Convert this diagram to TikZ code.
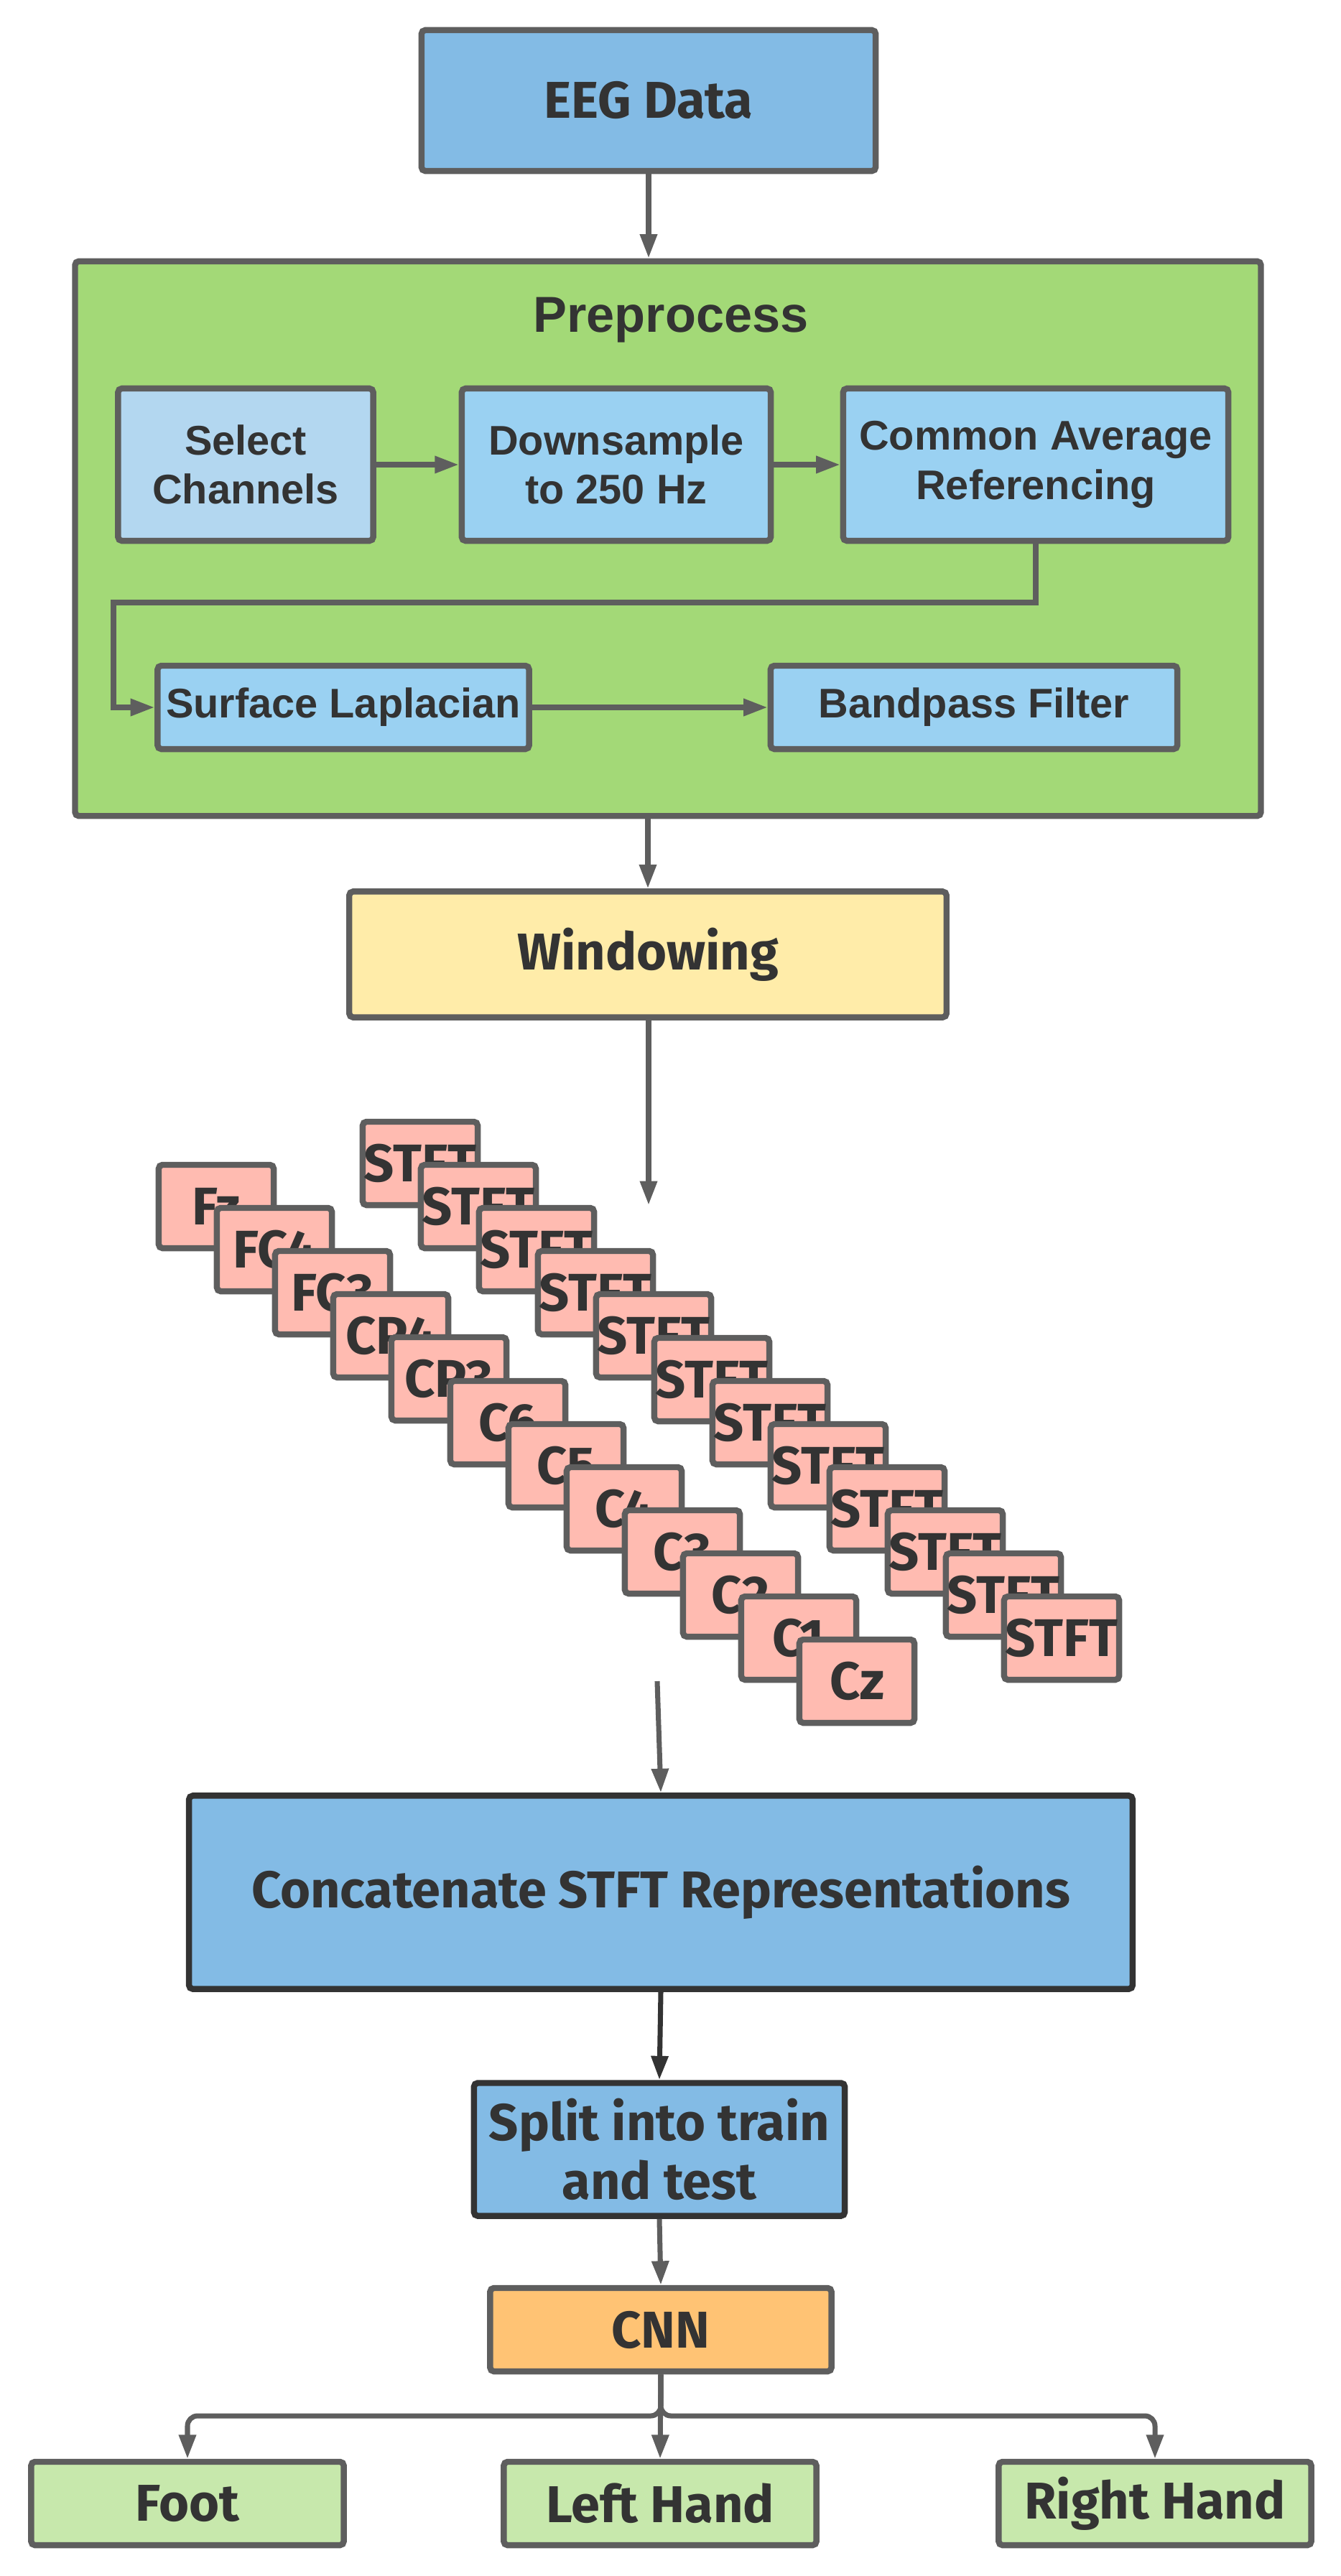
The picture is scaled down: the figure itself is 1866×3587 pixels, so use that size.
\documentclass[tikz,border=0pt]{standalone}
\usepackage{fontspec}
\usepackage{tikz}
\usetikzlibrary{arrows.meta,positioning}
\newfontfamily\topfont{Liberation Sans}
\newfontfamily\botfont{Fira Sans}
\definecolor{eegblue}{HTML}{83BBE5}
\definecolor{prepgreen}{HTML}{A3D977}
\definecolor{selblue}{HTML}{B3D7F0}
\definecolor{stepblue}{HTML}{9AD1F2}
\definecolor{winyellow}{HTML}{FFECA9}
\definecolor{chanpink}{HTML}{FFBBB1}
\definecolor{cnnorange}{HTML}{FFC374}
\definecolor{outgreen}{HTML}{C7E8AC}
\definecolor{linegray}{HTML}{5E5E5E}
\definecolor{txtdark}{HTML}{333333}

\begin{document}
\begin{tikzpicture}[
  x=0.01cm, y=-0.01cm,
  box/.style={draw=linegray, line width=2.4pt, rounded corners=1.5pt, text=txtdark, align=center, inner sep=0pt},
  topbox/.style={box, fill=stepblue, minimum height=2.12cm, font=\topfont\bfseries\fontsize{16.4}{19.5}\selectfont},
  flatbox/.style={box, fill=stepblue, minimum height=1.16cm, font=\topfont\bfseries\fontsize{16.4}{19.5}\selectfont},
  bigbox/.style={box, font=\botfont\bfseries\fontsize{20.5}{23.5}\selectfont},
  chan/.style={box, fill=chanpink, minimum width=1.6cm, minimum height=1.16cm, font=\botfont\bfseries\fontsize{21}{23.5}\selectfont},
  outbox/.style={bigbox, fill=outgreen, minimum width=4.35cm, minimum height=1.16cm},
  arrow/.style={-{Triangle[length=9.5pt,width=6.5pt]}, draw=linegray, line width=2pt}
]
\useasboundingbox (0,0) rectangle (1866,3587);

% top part
\node[bigbox, fill=eegblue, minimum width=6.32cm, minimum height=1.96cm] (eeg) at (903,140) {EEG Data};
\node[box, fill=prepgreen, minimum width=16.5cm, minimum height=7.72cm] (pre) at (930,750) {};
\node[text=txtdark, font=\topfont\bfseries\fontsize{20}{23}\selectfont] (pretitle) at (934,446) {Preprocess};

\node[topbox, fill=selblue, minimum width=3.55cm] (sel)  at (342,647)  {Select\\Channels};
\node[topbox, minimum width=4.30cm]               (down) at (858,647)  {Downsample\\to 250 Hz};
\node[topbox, minimum width=5.36cm]               (car)  at (1442,647) {Common Average\\Referencing};
\node[flatbox, minimum width=5.17cm]              (surf) at (478,985)  {Surface Laplacian};
\node[flatbox, minimum width=5.66cm]              (band) at (1356,985) {Bandpass Filter};

\node[bigbox, fill=winyellow, minimum width=8.31cm, minimum height=1.75cm] (win) at (902,1329) {Windowing};

% channels
\node[chan] (chFz)  at (301,1680)  {Fz};
\node[chan] (chFC4) at (382,1740)  {FC4};
\node[chan] (chFC3) at (463,1800)  {FC3};
\node[chan] (chCP4) at (544,1860)  {CP4};
\node[chan] (chCP3) at (625,1920)  {CP3};
\node[chan] (chC6)  at (707,1981)  {C6};
\node[chan] (chC5)  at (788,2041)  {C5};
\node[chan] (chC4)  at (869,2101)  {C4};
\node[chan] (chC3)  at (950,2161)  {C3};
\node[chan] (chC2)  at (1031,2221) {C2};
\node[chan] (chC1)  at (1112,2281) {C1};
\node[chan] (chCz)  at (1193,2341) {Cz};

% stft
\node[chan] (stft1)  at (585,1620)  {STFT};
\node[chan] (stft2)  at (666,1680)  {STFT};
\node[chan] (stft3)  at (747,1740)  {STFT};
\node[chan] (stft4)  at (829,1800)  {STFT};
\node[chan] (stft5)  at (910,1860)  {STFT};
\node[chan] (stft6)  at (991,1921)  {STFT};
\node[chan] (stft7)  at (1072,1981) {STFT};
\node[chan] (stft8)  at (1153,2041) {STFT};
\node[chan] (stft9)  at (1235,2101) {STFT};
\node[chan] (stft10) at (1316,2161) {STFT};
\node[chan] (stft11) at (1397,2221) {STFT};
\node[chan] (stft12) at (1478,2281) {STFT};

% bottom part
\node[bigbox, draw=txtdark, fill=eegblue, minimum width=13.13cm, minimum height=2.69cm] (cat) at (920,2635) {Concatenate STFT Representations};
\node[bigbox, draw=txtdark, fill=eegblue, minimum width=5.16cm, minimum height=1.85cm] (split) at (918,2993) {Split into train\\and test};
\node[bigbox, fill=cnnorange, minimum width=4.75cm, minimum height=1.16cm] (cnn) at (920,3244) {CNN};

\node[outbox] (foot)  at (261,3486)  {Foot};
\node[outbox] (left)  at (919,3486)  {Left Hand};
\node[outbox] (right) at (1608,3486) {Right Hand};

\coordinate (winend) at (903,1678);
\coordinate (catin) at (915,2341);
\coordinate (fork) at (920,3364);

\draw[arrow] (eeg.south) -- (eeg.south |- pre.north);
\draw[arrow] (sel.east) -- (down.west);
\draw[arrow] (down.east) -- (car.west);
\draw[arrow] (car.south) |- (158,839) |- (surf.west);
\draw[arrow] (surf.east) -- (band.west);
\draw[arrow] (win.north |- pre.south) -- (win.north);
\draw[arrow] (win.south -| winend) -- (winend);

\draw[arrow] (catin) -- (cat.north);
\draw[arrow, draw=txtdark] (cat.south) -- (split.north);
\draw[arrow] (split.south) -- (cnn.north);
\draw[arrow, rounded corners=4pt] (cnn.south) -- (fork) -| (foot.north);
\draw[arrow] (cnn.south) -- (left.north);
\draw[arrow, rounded corners=4pt] (cnn.south) -- (fork) -| (right.north);
\end{tikzpicture}
\end{document}
